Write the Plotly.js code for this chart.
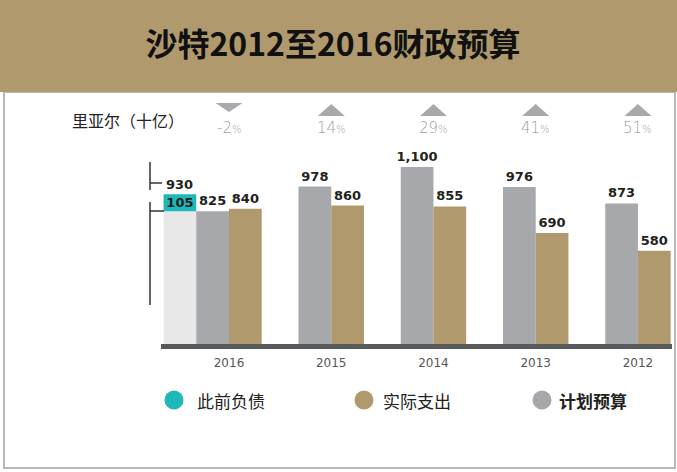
<!DOCTYPE html>
<html>
<head>
<meta charset="utf-8">
<script src="https://cdn.plot.ly/plotly-3.0.1.min.js"></script>
<style>
  html, body { margin: 0; padding: 0; background: #fff; }
  #chart { width: 677px; height: 472px; }
</style>
</head>
<body>
<div id="chart"></div>
<script>
'use strict';

// data
let years = ['2016', '2015', '2014', '2013', '2012'];
let planned = [825, 978, 1100, 976, 873];      // 计划预算
let actual = [840, 860, 855, 690, 580];        // 实际支出
let debtBase = [825];                          // 2016 planned part under the debt
let priorDebt = [105];                         // 此前负债 (2016 only)
let total2016 = [930];
let changes = ['-2', '14', '29', '41', '51'];  // % change, shown over each year
let changeUp = [false, true, true, true, true];

let gold = '#b09a6d';
let grey = '#a6a8ab';
let teal = '#1fb8b8';
let pale = '#e8e8e8';

// plot area in pixels, used for the decorations around the plot
let L = 161, R = 672, T = 95, B = 344;
function px(x){ return (x - L) / (R - L); }
function py(y){ return (B - y) / (B - T); }

let numFont = {family: '"DejaVu Sans", sans-serif', size: 13, color: '#231f20', weight: 'bold'};
let cjk = '"Noto Sans CJK SC", sans-serif';

let barW = 0.32;

var traces = [{
    x: [0], y: debtBase,
    type: 'bar', name: 'base',
    offset: -2*barW, width: barW,
    marker: {color: pale},
    hoverinfo: 'skip', showlegend: false
  }, {
    x: [0], y: priorDebt, base: debtBase,
    type: 'bar', name: '此前负债',
    offset: -2*barW, width: barW,
    marker: {color: teal},
    text: priorDebt.map(String), textposition: 'inside', insidetextanchor: 'middle',
    constraintext: 'none', textfont: numFont,
    showlegend: false
  }, {
    x: [0, 1, 2, 3, 4], y: planned,
    type: 'bar', name: '计划预算',
    offset: -barW, width: barW,
    marker: {color: grey},
    texttemplate: '%{y:,}', textposition: 'outside', textfont: numFont,
    constraintext: 'none', cliponaxis: false, showlegend: false
  }, {
    x: [0, 1, 2, 3, 4], y: actual,
    type: 'bar', name: '实际支出',
    offset: 0, width: barW,
    marker: {color: gold},
    texttemplate: '%{y:,}', textposition: 'outside', textfont: numFont,
    constraintext: 'none', cliponaxis: false, showlegend: false
}];

var shapes = [
  // frame and header band
  {type: 'rect', xref: 'paper', yref: 'paper', x0: px(4), x1: px(675), y0: py(468), y1: py(92),
   line: {color: '#b5b9bd', width: 2}, fillcolor: 'rgba(0,0,0,0)'},
  {type: 'rect', xref: 'paper', yref: 'paper', x0: px(-2), x1: px(679), y0: py(92), y1: py(-2),
   line: {width: 0}, fillcolor: gold},
  // brackets beside the 2016 bar
  {type: 'line', xref: 'paper', yref: 'paper', x0: px(150), x1: px(150), y0: py(162), y1: py(190), line: {color: '#333', width: 1.5}},
  {type: 'line', xref: 'paper', yref: 'paper', x0: px(150), x1: px(162), y0: py(183), y1: py(183), line: {color: '#333', width: 1.5}},
  {type: 'line', xref: 'paper', yref: 'paper', x0: px(150), x1: px(150), y0: py(202), y1: py(305), line: {color: '#333', width: 1.5}},
  {type: 'line', xref: 'paper', yref: 'paper', x0: px(150), x1: px(164), y0: py(211), y1: py(211), line: {color: '#333', width: 1.5}}
];

// up / down markers over each year
for (let i = 0; i < years.length; i++){
  let h = 0.132;
  let path;
  if (changeUp[i]){
    path = 'M' + (i-h) + ',' + py(116) + ' L' + (i+h) + ',' + py(116) + ' L' + i + ',' + py(104) + ' Z';
  } else {
    path = 'M' + (i-h) + ',' + py(103) + ' L' + (i+h) + ',' + py(103) + ' L' + i + ',' + py(112) + ' Z';
  }
  shapes.push({type: 'path', xref: 'x', yref: 'paper', path: path, fillcolor: '#a7a9ac', line: {width: 0}});
}

// legend dots
let legendItems = [
  {label: '此前负债', color: teal, dot: 174, text: 195, bold: false},
  {label: '实际支出', color: gold, dot: 364, text: 381, bold: false},
  {label: '计划预算', color: grey, dot: 542, text: 557, bold: true}
];

var annotations = [];

legendItems.forEach(function(d){
  shapes.push({type: 'circle', xref: 'paper', yref: 'paper', xsizemode: 'pixel', ysizemode: 'pixel',
    xanchor: px(d.dot), yanchor: py(400), x0: -9.5, x1: 9.5, y0: -9.5, y1: 9.5,
    fillcolor: d.color, line: {width: 0}});
  annotations.push({xref: 'paper', yref: 'paper', x: px(d.text), y: py(400), xanchor: 'left', yanchor: 'middle',
    text: d.label, showarrow: false,
    font: {family: cjk, size: 17, color: '#222', weight: d.bold ? 'bold' : 'normal'}});
});

for (let i = 0; i < years.length; i++){
  annotations.push({xref: 'x', yref: 'paper', x: i, y: py(128), yanchor: 'middle',
    text: changes[i] + '<span style="font-size:10px">%</span>', showarrow: false,
    font: {family: '"DejaVu Sans", sans-serif', size: 15, color: '#9d9fa2', weight: 200}});
}

annotations.push({xref: 'x', yref: 'y', x: -1.5*barW, y: total2016[0], xanchor: 'center', yanchor: 'bottom',
  text: String(total2016[0]), showarrow: false, font: numFont});

annotations.push({xref: 'paper', yref: 'paper', x: px(70), y: py(120), xanchor: 'left', yanchor: 'middle',
  text: '里亚尔（十亿）', showarrow: false, font: {family: cjk, size: 16, color: '#222'}});

var layout = {
  width: 677,
  height: 472,
  paper_bgcolor: '#fff',
  plot_bgcolor: 'rgba(0,0,0,0)',
  barmode: 'overlay',
  showlegend: false,
  margin: {l: L, r: 677 - R, t: T, b: 472 - B, pad: 0},
  title: {
    text: '沙特2012至2016财政预算',
    x: 333/677, y: 1 - 45/472, xanchor: 'center', yanchor: 'middle',
    font: {family: cjk, size: 32, color: '#111', weight: 'bold'}
  },
  xaxis: {
    range: [-0.665, 4.333],
    tickvals: [0, 1, 2, 3, 4],
    ticktext: years,
    showline: true, linecolor: '#58595b', linewidth: 5,
    showgrid: false, zeroline: false, ticks: '',
    ticklabelstandoff: 4,
    tickfont: {family: '"DejaVu Sans", sans-serif', size: 12, color: '#555'},
    fixedrange: true
  },
  yaxis: {
    range: [0, 1547],
    visible: false, showgrid: false, zeroline: false,
    fixedrange: true
  },
  shapes: shapes,
  annotations: annotations
};

Plotly.newPlot('chart', traces, layout, {displayModeBar: false, staticPlot: true});
</script>
</body>
</html>
